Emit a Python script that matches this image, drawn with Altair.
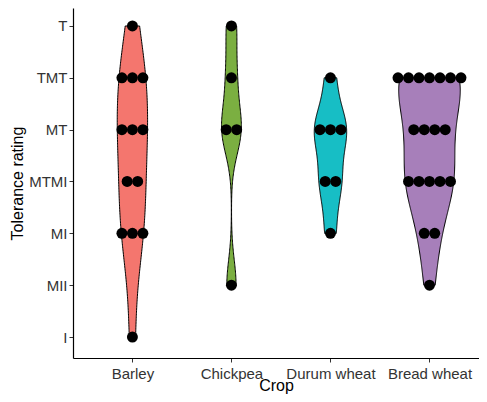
import altair as alt
import numpy as np
import pandas as pd

# Rating levels, bottom to top
levels = ["I", "MII", "MI", "MTMI", "MT", "TMT", "T"]
crops = ["Barley", "Chickpea", "Durum wheat", "Bread wheat"]
colors = ["#F4766E", "#7BAF41", "#17BEC5", "#A77FBA"]

# Observed tolerance ratings per crop
barley = ["T", "TMT", "TMT", "TMT", "MT", "MT", "MT", "MTMI", "MTMI", "MI", "MI", "MI", "I"]
chickpea = ["T", "TMT", "MT", "MT", "MII"]
durum_wheat = ["TMT", "MT", "MT", "MT", "MTMI", "MTMI", "MI"]
bread_wheat = (["TMT"] * 7 + ["MT"] * 4 + ["MTMI"] * 5 + ["MI"] * 2 + ["MII"])

obs = [barley, chickpea, durum_wheat, bread_wheat]

rows = []
for i, (crop, vals) in enumerate(zip(crops, obs)):
    for r in vals:
        rows.append({"crop": crop, "idx": i + 1, "rating": r, "value": levels.index(r) + 1})
df = pd.DataFrame(rows)


def bw_nrd0(x):
    x = np.asarray(x, dtype=float)
    sd = x.std(ddof=1)
    q1, q3 = np.percentile(x, [25, 75])
    lo = min(sd, (q3 - q1) / 1.34)
    if lo <= 0:
        lo = sd
    return 0.9 * lo * len(x) ** -0.2


K = 0.057      # violin half-width per (count-scaled) density unit
DOT = 0.106    # horizontal dot spacing in x units

y_scale = alt.Scale(domain=[0.595, 7.347], nice=False, zero=False)
x_scale = alt.Scale(domain=[0.4, 4.5], nice=False, zero=False)
color_scale = alt.Scale(domain=crops, range=colors)

labels_expr_y = "[" + ",".join(f"'{l}'" for l in levels) + "][datum.value - 1]"
labels_expr_x = "[" + ",".join(f"'{c}'" for c in crops) + "][datum.value - 1]"

common = dict(grid=False, labelFontSize=15, titleFontSize=16, labelColor="#333333",
              titleColor="#000000", domainColor="#000000", tickColor="#333333",
              tickSize=4, labelFont="Liberation Sans", titleFont="Liberation Sans",
              titleFontWeight=400)
x_axis = alt.Axis(values=[1, 2, 3, 4], labelExpr=labels_expr_x, title="Crop",
                  labelPadding=4, titlePadding=-4, **common)
y_axis = alt.Axis(values=list(range(1, 8)), labelExpr=labels_expr_y, title="Tolerance rating",
                  labelPadding=2, titlePadding=3, **common)

layers = []
for i, (crop, vals) in enumerate(zip(crops, obs)):
    v = [levels.index(r) + 1 for r in vals]
    bw = bw_nrd0(v)
    layer = (
        alt.Chart(df)
        .transform_filter(alt.datum.crop == crop)
        .transform_density("value", groupby=["crop", "idx"], bandwidth=bw,
                           extent=[min(v), max(v)], counts=True, steps=200,
                           as_=["value", "density"])
        .transform_calculate(xl=f"datum.idx - {K} * datum.density",
                             xr=f"datum.idx + {K} * datum.density")
        .mark_area(orient="horizontal", stroke="black", strokeWidth=1, opacity=1)
        .encode(
            y=alt.Y("value:Q", scale=y_scale, axis=y_axis),
            x=alt.X("xl:Q", scale=x_scale, axis=x_axis),
            x2="xr:Q",
            color=alt.Color("crop:N", scale=color_scale, legend=None),
        )
    )
    layers.append(layer)

dots = (
    alt.Chart(df)
    .transform_window(rn="row_number()", groupby=["crop", "rating"])
    .transform_joinaggregate(n="count()", groupby=["crop", "rating"])
    .transform_calculate(xpos=f"datum.idx + (datum.rn - (datum.n + 1) / 2) * {DOT}")
    .mark_circle(size=120, color="black", opacity=1)
    .encode(
        x=alt.X("xpos:Q", scale=x_scale, axis=x_axis),
        y=alt.Y("value:Q", scale=y_scale, axis=y_axis),
    )
)

chart = (
    alt.layer(*layers, dots)
    .properties(width=406, height=350, autosize="none",
                padding={"left": 65, "top": 0, "right": 0, "bottom": 36})
    .configure_view(stroke=None)
    .configure_axis(domainWidth=1.2, titleFontWeight=400)
)

chart.save("out.html", embed_options={"renderer": "svg", "actions": False})
